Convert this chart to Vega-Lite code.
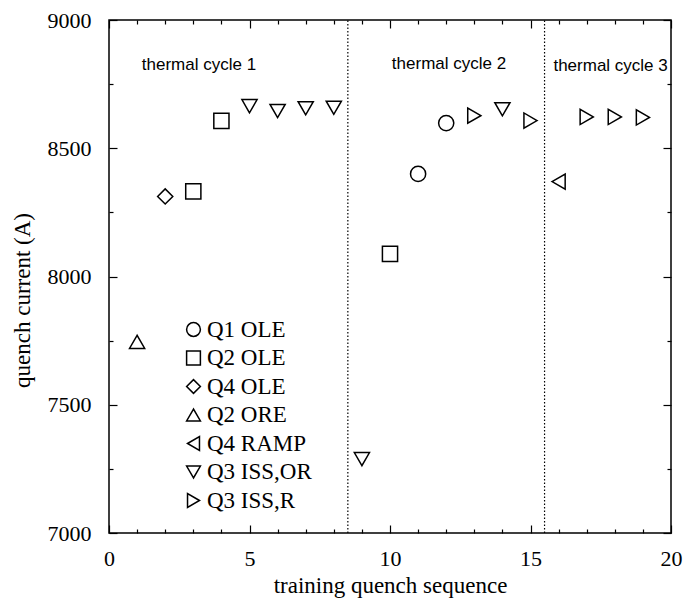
{
  "$schema": "https://vega.github.io/schema/vega-lite/v6.json",
  "width": 562,
  "height": 513,
  "autosize": {"type": "none"},
  "padding": {"left": 109, "top": 20, "right": 12, "bottom": 65},
  "background": "white",
  "config": {
    "view": {"stroke": "black", "strokeWidth": 1.5},
    "axis": {"grid": false, "domain": false, "tickColor": "black", "tickWidth": 1.2, "labelColor": "black", "titleColor": "black"}
  },
  "layer": [
    {
      "data": {"values": [
        {"seq": 1, "current": 7745, "magnet": "Q2 ORE"},
        {"seq": 2, "current": 8312, "magnet": "Q4 OLE"},
        {"seq": 3, "current": 8332, "magnet": "Q2 OLE"},
        {"seq": 4, "current": 8607, "magnet": "Q2 OLE"},
        {"seq": 5, "current": 8664, "magnet": "Q3 ISS,OR"},
        {"seq": 6, "current": 8645, "magnet": "Q3 ISS,OR"},
        {"seq": 7, "current": 8656, "magnet": "Q3 ISS,OR"},
        {"seq": 8, "current": 8658, "magnet": "Q3 ISS,OR"},
        {"seq": 9, "current": 7288, "magnet": "Q3 ISS,OR"},
        {"seq": 10, "current": 8088, "magnet": "Q2 OLE"},
        {"seq": 11, "current": 8400, "magnet": "Q1 OLE"},
        {"seq": 12, "current": 8598, "magnet": "Q1 OLE"},
        {"seq": 13, "current": 8627, "magnet": "Q3 ISS,R"},
        {"seq": 14, "current": 8652, "magnet": "Q3 ISS,OR"},
        {"seq": 15, "current": 8608, "magnet": "Q3 ISS,R"},
        {"seq": 16, "current": 8370, "magnet": "Q4 RAMP"},
        {"seq": 17, "current": 8622, "magnet": "Q3 ISS,R"},
        {"seq": 18, "current": 8622, "magnet": "Q3 ISS,R"},
        {"seq": 19, "current": 8620, "magnet": "Q3 ISS,R"}
      ]},
      "mark": {"type": "point", "filled": false, "color": "black", "strokeWidth": 1.5, "size": 230, "opacity": 1},
      "encoding": {
        "x": {
          "field": "seq", "type": "quantitative",
          "scale": {"domain": [0, 20], "nice": false, "zero": false},
          "axis": {
            "orient": "bottom",
            "values": [0, 5, 10, 15, 20],
            "tickSize": -8,
            "labelOverlap": false, "labelFlush": false, "labelBound": false,
            "labelFont": "Liberation Serif", "labelFontSize": 22, "labelPadding": 23,
            "title": "training quench sequence",
            "titleFont": "Liberation Serif", "titleFontSize": 23, "titleFontWeight": "normal",
            "titleY": 52, "titleBaseline": "middle"
          }
        },
        "y": {
          "field": "current", "type": "quantitative",
          "scale": {"domain": [7000, 9000], "nice": false, "zero": false},
          "axis": {
            "orient": "left",
            "values": [7000, 7500, 8000, 8500, 9000],
            "tickSize": -8,
            "labelOverlap": false, "labelFlush": false, "labelBound": false,
            "labelFont": "Liberation Serif", "labelFontSize": 22, "labelPadding": 26,
            "format": "d",
            "title": "quench current (A)",
            "titleFont": "Liberation Serif", "titleFontSize": 23, "titleFontWeight": "normal",
            "titleX": -87, "titleY": 280, "titleBaseline": "middle", "titleAngle": -90
          }
        },
        "shape": {
          "field": "magnet", "type": "nominal",
          "scale": {
            "domain": ["Q1 OLE", "Q2 OLE", "Q4 OLE", "Q2 ORE", "Q4 RAMP", "Q3 ISS,OR", "Q3 ISS,R"],
            "range": ["circle", "square", "diamond", "triangle-up", "triangle-left", "triangle-down", "triangle-right"]
          },
          "legend": {
            "title": null, "orient": "none", "legendX": 73, "legendY": 298,
            "labelFont": "Liberation Serif", "labelFontSize": 23, "labelColor": "black",
            "symbolSize": 190, "symbolStrokeWidth": 1.5, "symbolStrokeColor": "black",
            "symbolFillColor": "transparent", "rowPadding": 4.5, "labelOffset": 2,
            "padding": 0, "labelLimit": 300
          }
        }
      }
    },
    {
      "data": {"values": [{"boundary": 8.5}, {"boundary": 15.5}]},
      "mark": {"type": "rule", "color": "black", "strokeWidth": 1.2, "strokeDash": [1.5, 2]},
      "encoding": {
        "x": {
          "field": "boundary", "type": "quantitative",
          "axis": {
            "orient": "bottom",
            "values": [1,2,3,4,6,7,8,9,11,12,13,14,16,17,18,19],
            "tickSize": -4, "labels": false, "title": null
          }
        },
        "y": {
          "datum": 7000, "type": "quantitative",
          "axis": {
            "orient": "left",
            "values": [7250, 7750, 8250, 8750],
            "tickSize": -4, "labels": false, "title": null
          }
        },
        "y2": {"datum": 9000}
      }
    },
    {
      "data": {"values": [
        {"label": "thermal cycle 1", "seq": 3.2, "current": 8825},
        {"label": "thermal cycle 2", "seq": 12.1, "current": 8830}
      ]},
      "mark": {"type": "text", "font": "Liberation Sans", "fontSize": 17, "color": "black", "baseline": "middle", "align": "center"},
      "encoding": {
        "x": {
          "field": "seq", "type": "quantitative",
          "axis": {
            "orient": "top",
            "values": [0, 5, 10, 15, 20],
            "tickSize": -8, "labels": false, "title": null
          }
        },
        "y": {
          "field": "current", "type": "quantitative",
          "axis": {
            "orient": "right",
            "values": [7000, 7500, 8000, 8500, 9000],
            "tickSize": -8, "labels": false, "title": null
          }
        },
        "text": {"field": "label"}
      }
    },
    {
      "data": {"values": [
        {"label": "thermal cycle 3", "seq": 17.85, "current": 8820}
      ]},
      "mark": {"type": "text", "font": "Liberation Sans", "fontSize": 17, "color": "black", "baseline": "middle", "align": "center"},
      "encoding": {
        "x": {
          "field": "seq", "type": "quantitative",
          "axis": {
            "orient": "top",
            "values": [1,2,3,4,6,7,8,9,11,12,13,14,16,17,18,19],
            "tickSize": -4, "labels": false, "title": null
          }
        },
        "y": {
          "field": "current", "type": "quantitative",
          "axis": {
            "orient": "right",
            "values": [7250, 7750, 8250, 8750],
            "tickSize": -4, "labels": false, "title": null
          }
        },
        "text": {"field": "label"}
      }
    }
  ],
  "resolve": {"axis": {"x": "independent", "y": "independent"}}
}
